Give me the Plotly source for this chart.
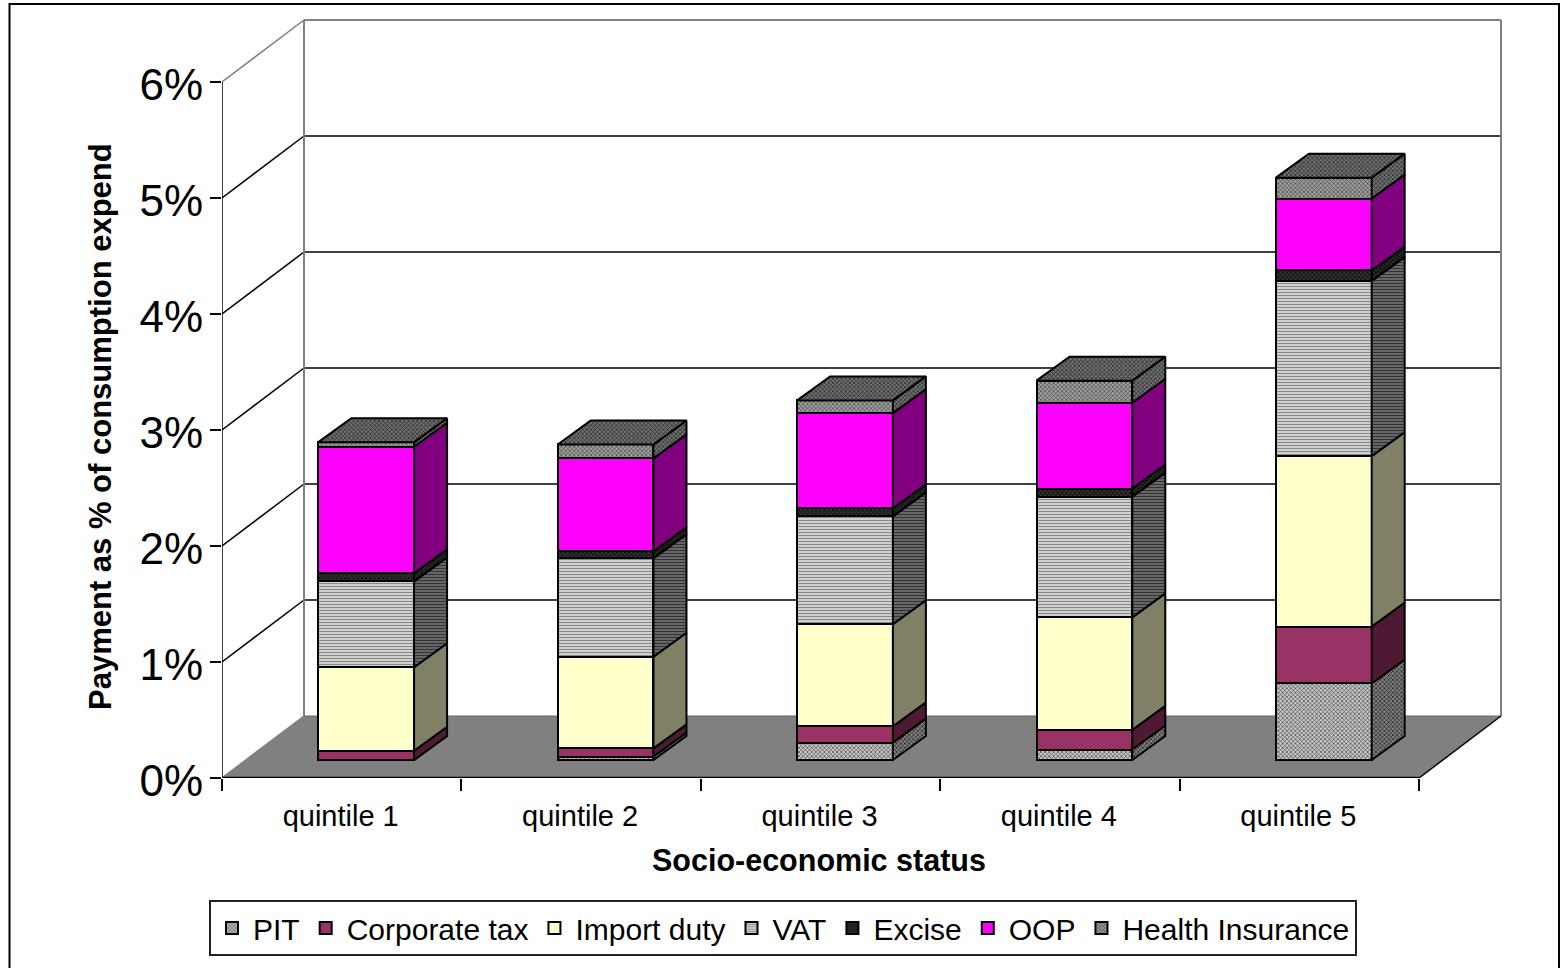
import plotly.graph_objects as go

categories = ["quintile 1", "quintile 2", "quintile 3", "quintile 4", "quintile 5"]
PIT = [0.00, 0.03, 0.15, 0.09, 0.66]
Corporate = [0.08, 0.07, 0.14, 0.17, 0.49]
Import = [0.72, 0.79, 0.88, 0.97, 1.47]
VAT = [0.74, 0.85, 0.93, 1.04, 1.51]
Excise = [0.07, 0.06, 0.07, 0.07, 0.09]
OOP = [1.09, 0.80, 0.82, 0.74, 0.62]
Health = [0.04, 0.12, 0.11, 0.19, 0.18]
y_ticks = [0, 1, 2, 3, 4, 5, 6]

PW, PH = 1562, 968
L, R, T, B = 222, 1503, 18, 778
UX, UY = 239.4, 116.0            # pixels per category / per percent
WALL_X, WALL_Y = 82 / UX, 62 / UY
BAR_W = 0.40
BAR_SHIFT, BAR_LIFT = 24.5 / UX, 18 / UY
BAR_DX, BAR_DY = 33 / UX, 24 / UY
XMIN, XMAX = -0.5, -0.5 + (R - L) / UX
YMAX = (B - T) / UY
FONT = "Liberation Sans"
EDGE = 2


def pat(shape, fg, bg, size=3, sol=0.4):
    return dict(shape=shape, fgcolor=fg, bgcolor=bg, size=size, solidity=sol, fillmode="replace")


series = [
    ("PIT", PIT, "#b0b0b0", pat("x", "#444444", "#c8c8c8"), pat("x", "#1a1a1a", "#808080")),
    ("Corporate tax", Corporate, "#993366", None, "#4d1933"),
    ("Import duty", Import, "#ffffcc", None, "#808066"),
    ("VAT", VAT, "#c0c0c0", pat("-", "#888888", "#e8e8e8", 3, 0.5), pat("-", "#333333", "#777777", 3, 0.5)),
    ("Excise", Excise, "#222222", pat("x", "#000000", "#333333"), pat("x", "#000000", "#2a2a2a")),
    ("OOP", OOP, "#ff00ff", None, "#800080"),
    ("Health Insurance", Health, "#808080", pat("x", "#444444", "#a0a0a0"), pat("x", "#222222", "#707070")),
]
TOP_FILL = pat("x", "#222222", "#707070")

fig = go.Figure()
bars, faces = [], []
base = [0.0] * len(categories)
for name, values, color, front, side in series:
    xs = [i + BAR_SHIFT for i in range(len(categories))]
    bars.append(go.Bar(
        name=name, x=xs, y=values, base=[b + BAR_LIFT for b in base], width=BAR_W,
        marker=dict(color=color, line=dict(color="black", width=EDGE), pattern=front or dict(shape="")),
        hoverinfo="name+y",
    ))
    for i, v in enumerate(values):
        xr = i + BAR_SHIFT + BAR_W / 2
        y0 = base[i] + BAR_LIFT
        y1 = y0 + v
        kw = dict(fillcolor=side) if isinstance(side, str) else dict(fillcolor=color, fillpattern=side)
        faces.append(go.Scatter(
            x=[xr, xr + BAR_DX, xr + BAR_DX, xr, xr],
            y=[y0, y0 + BAR_DY, y1 + BAR_DY, y1, y0],
            mode="lines", fill="toself", line=dict(color="black", width=EDGE),
            showlegend=False, hoverinfo="skip", **kw))
    base = [b + v for b, v in zip(base, values)]

for i, top in enumerate(base):
    xl = i + BAR_SHIFT - BAR_W / 2
    xr = xl + BAR_W
    y0 = top + BAR_LIFT
    faces.append(go.Scatter(
        x=[xl, xr, xr + BAR_DX, xl + BAR_DX, xl],
        y=[y0, y0, y0 + BAR_DY, y0 + BAR_DY, y0],
        mode="lines", fill="toself", fillcolor="#555555", fillpattern=TOP_FILL,
        line=dict(color="black", width=EDGE), showlegend=False, hoverinfo="skip"))

for t in bars + faces:
    fig.add_trace(t)

X_END = len(categories) - 0.5
shapes = []


def line(x0, y0, x1, y1, color="black", width=1.5):
    shapes.append(dict(type="line", xref="x", yref="y", x0=x0, y0=y0, x1=x1, y1=y1,
                       line=dict(color=color, width=width), layer="below"))


# outer frame (bottom edge falls off the page)
shapes.append(dict(type="rect", xref="paper", yref="paper",
                   x0=(9.5 - L) / (R - L), x1=(1559 - L) / (R - L),
                   y0=(B - 990) / (B - T), y1=(B - 4) / (B - T),
                   line=dict(color="black", width=2), fillcolor="white", layer="below"))
# floor
shapes.append(dict(type="path", xref="x", yref="y", layer="below", fillcolor="#808080",
                   line=dict(width=0),
                   path=f"M {XMIN} 0 L {X_END} 0 L {X_END + WALL_X} {WALL_Y} L {XMIN + WALL_X} {WALL_Y} Z"))
# back wall gridlines and left wall diagonals
for t in y_ticks[1:-1]:
    line(XMIN + WALL_X, t + WALL_Y, X_END + WALL_X, t + WALL_Y)
    line(XMIN, t, XMIN + WALL_X, t + WALL_Y)
line(XMIN + WALL_X, 6 + WALL_Y, X_END + WALL_X, 6 + WALL_Y, "#808080", 2)
line(XMIN, 6, XMIN + WALL_X, 6 + WALL_Y, "#808080", 1.5)
line(XMIN, 0, XMIN + WALL_X, WALL_Y, "#808080", 1.5)
line(XMIN + WALL_X, WALL_Y, XMIN + WALL_X, 6 + WALL_Y, "#808080", 2)
line(X_END + WALL_X, WALL_Y, X_END + WALL_X, 6 + WALL_Y, "#808080", 2)
line(XMIN + WALL_X, WALL_Y, X_END + WALL_X, WALL_Y, "#666666", 1.0)
line(X_END, 0, X_END + WALL_X, WALL_Y, "black", 1.5)
# axes
line(XMIN, 0, X_END, 0, "black", 2.5)
line(XMIN, 0, XMIN, 6, "black", 1.5)

fig.update_layout(
    width=PW, height=PH, autosize=False,
    margin=dict(l=L, r=PW - R, t=T, b=PH - B, pad=0, autoexpand=False),
    paper_bgcolor="white", plot_bgcolor="rgba(0,0,0,0)",
    barmode="overlay", bargap=0,
    font=dict(family=FONT, color="black", size=29),
    shapes=shapes,
    showlegend=True,
    legend=dict(orientation="h", x=(209 - L) / (R - L), xanchor="left",
                y=(B - 900) / (B - T), yanchor="top",
                bordercolor="#222222", borderwidth=2, bgcolor="white",
                font=dict(size=30, family=FONT), traceorder="normal",
                itemwidth=32, tracegroupgap=0),
    xaxis=dict(range=[XMIN, XMAX], tickmode="array", tickvals=list(range(len(categories))),
               ticktext=categories, ticks="outside", ticklen=12, tickcolor="rgba(0,0,0,0)",
               ticklabelshift=-1,
               showgrid=False, zeroline=False, showline=False,
               tickfont=dict(size=29, family=FONT),
               minor=dict(ticks="outside", ticklen=12, tickwidth=1.5, tickcolor="black",
                          tick0=-0.5, dtick=1, showgrid=False)),
    yaxis=dict(range=[0, YMAX], tickmode="array", tickvals=y_ticks, ticktext=[f"{t}%" for t in y_ticks],
               ticks="outside", ticklen=11, tickwidth=1.5, tickcolor="black", ticklabelstandoff=-2,
               ticklabelshift=3,
               showgrid=False, zeroline=False, showline=False,
               tickfont=dict(size=44, family=FONT)),
    annotations=[
        dict(text="<b>Socio-economic status</b>", xref="paper", yref="paper",
             x=(819 - L) / (R - L), y=(B - 860) / (B - T), xanchor="center", yanchor="middle",
             showarrow=False, font=dict(size=30.5, family=FONT)),
        dict(text="<b>Payment as % of consumption expend</b>", xref="paper", yref="paper",
             x=(100 - L) / (R - L), y=(B - 427) / (B - T), xanchor="center", yanchor="middle",
             textangle=-90, showarrow=False, font=dict(size=31, family=FONT)),
    ],
)
fig.write_html("out.html", post_script="document.body.style.margin='0';",
               config=dict(displayModeBar=False))
